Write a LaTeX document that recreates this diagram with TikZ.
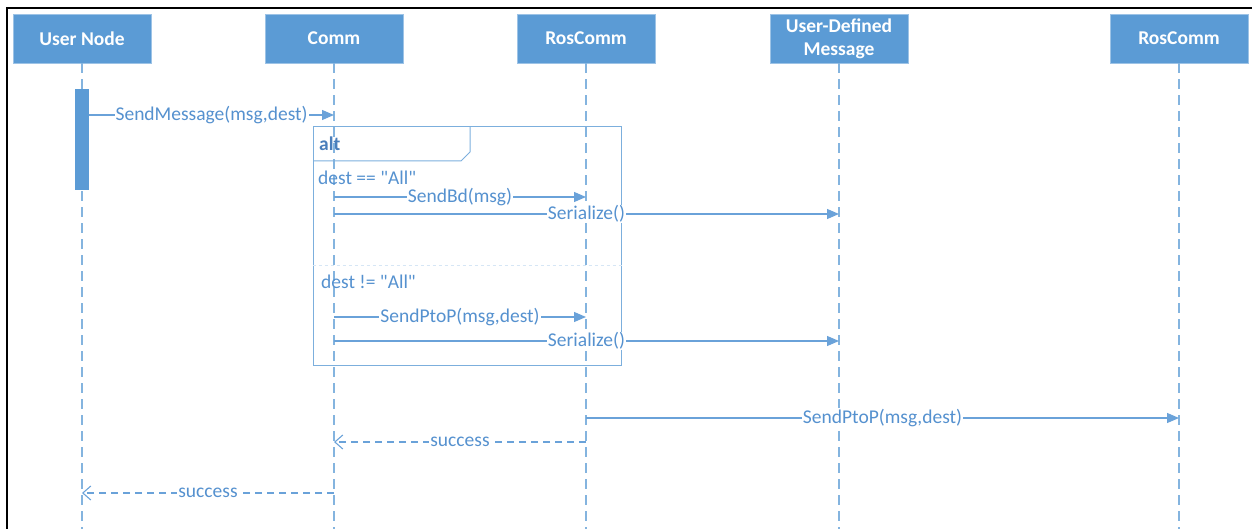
\documentclass[tikz,border=0pt]{standalone}
\usepackage{fontspec}
\setmainfont{Carlito}
\usetikzlibrary{arrows.meta}
\definecolor{umlblue}{HTML}{5B9BD5}
\definecolor{umlline}{HTML}{6AA2D9}
\definecolor{umltext}{HTML}{5591CF}
\definecolor{alttext}{HTML}{4A7EBB}
\tikzstyle{every node}=[font=\fontsize{19.5}{23}\selectfont]
\tikzstyle{actor}=[draw=umlblue!60, fill=umlblue, text=white, font=\fontsize{19.5}{23}\selectfont\bfseries, minimum width=138pt, minimum height=49pt, align=center, inner sep=0pt]
\tikzstyle{lifeline}=[umlblue!75, line width=1.2pt, dash pattern=on 10pt off 6pt]
\tikzstyle{call}=[umlline, line width=1.2pt, -{Triangle[length=12pt, width=10pt]}]
\tikzstyle{reply}=[umlline, line width=1.1pt, dash pattern=on 7pt off 5pt, -{Straight Barb[length=8pt, width=14pt]}]
\tikzstyle{msg}=[fill=white, inner sep=1pt, text=umltext]
\tikzstyle{guard}=[anchor=west, inner sep=0pt, text=umltext]

\begin{document}
\begin{tikzpicture}[x=1pt, y=-1pt]
    \useasboundingbox (0,0) rectangle (1252,529);
% Frame
    \draw[line width=2pt] (7,529) -- (7,8) -- (1252,8);
% Actors
    \node[actor] (user) at (82,38.5) {User Node};
    \node[actor] (comm) at (334,38.5) {Comm};
    \node[actor] (ros) at (586,38.5) {RosComm};
    \node[actor] (udm) at (839,38.5) {User-Defined\\Message};
    \node[actor] (rosb) at (1179,38.5) {RosComm};
% Lifelines
    \draw[lifeline] (user.south) -- (user |- 0,529);
    \draw[lifeline] (comm.south) -- (comm |- 0,529);
    \draw[lifeline] (ros.south) -- (ros |- 0,529);
    \draw[lifeline] (udm.south) -- (udm |- 0,529);
    \draw[lifeline] (rosb.south) -- (rosb |- 0,529);
% Activation
    \node[fill=umlblue, minimum width=14pt, minimum height=101pt, inner sep=0pt] (act) at (82,139.5) {};
% Alt fragment
    \node[draw=umlblue!80, line width=1pt, minimum width=308pt, minimum height=238pt, inner sep=0pt] (alt) at (467,246) {};
    \draw[umlblue!80, line width=1pt] (313,161) -- (461,161) -- (470,152) -- (470,127);
    \node[anchor=west, inner sep=0pt, text=alttext, font=\fontsize{19.5}{23}\selectfont\bfseries] (altlbl) at (319,144) {alt};
    \draw[umlblue!25, dashed, line width=0.8pt] (alt.west |- 0,265) -- (alt.east |- 0,265);
    \node[guard] (g1) at (318,178) {dest == \textquotedbl All\textquotedbl};
    \node[guard] (g2) at (321,282) {dest != \textquotedbl All\textquotedbl};
% Calls
    \draw[call] (act.east |- 0,115) -- (comm |- 0,115) node[msg, midway] {SendMessage(msg,dest)};
    \draw[call] (comm |- 0,197) -- (ros |- 0,197) node[msg, midway] {SendBd(msg)};
    \draw[call] (comm |- 0,214) -- (udm |- 0,214) node[msg, midway] {Serialize()};
    \draw[call] (comm |- 0,317) -- (ros |- 0,317) node[msg, midway] {SendPtoP(msg,dest)};
    \draw[call] (comm |- 0,341) -- (udm |- 0,341) node[msg, midway] {Serialize()};
    \draw[call] (ros |- 0,418) -- (rosb |- 0,418) node[msg, midway] {SendPtoP(msg,dest)};
% Replies
    \draw[reply] (ros |- 0,442) -- (comm |- 0,442) node[msg, midway] {success};
    \draw[reply] (comm |- 0,493) -- (user |- 0,493) node[msg, midway] {success};
\end{tikzpicture}
\end{document}
